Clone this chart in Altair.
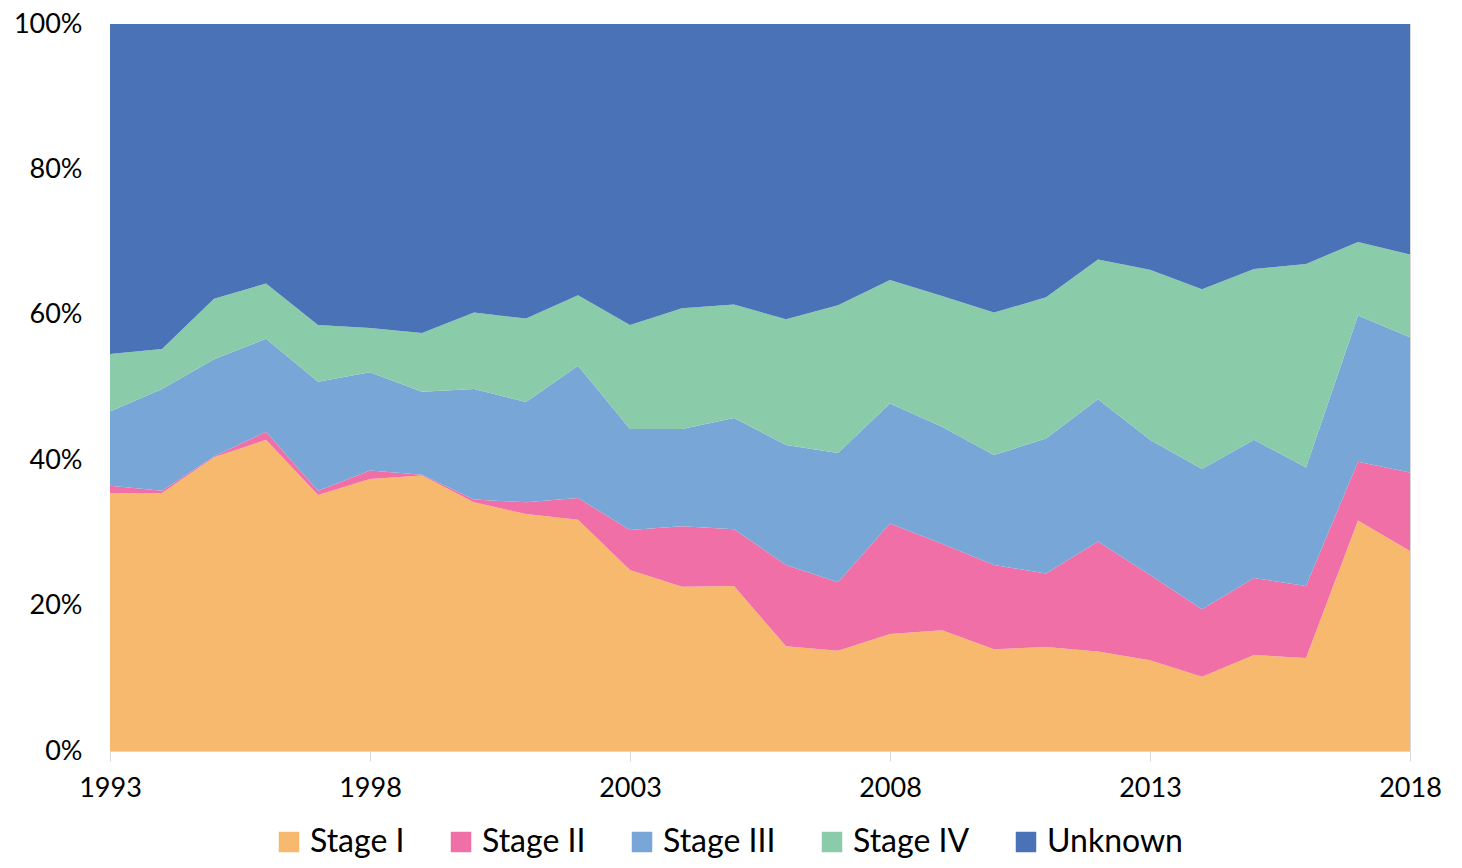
import altair as alt
import pandas as pd

years = list(range(1993, 2019))
stage_names = ["Stage I", "Stage II", "Stage III", "Stage IV", "Unknown"]
colors = ["#F6B96E", "#EF6FA6", "#78A7D7", "#8ACBAA", "#4A72B7"]

stage1 = [35.5, 35.5, 40.4, 42.8, 35.2, 37.4, 37.9, 34.2, 32.6, 31.8, 24.9, 22.6, 22.7,
          14.4, 13.8, 16.1, 16.6, 14.0, 14.3, 13.7, 12.5, 10.2, 13.2, 12.8, 31.7, 27.5]
stage2 = [1.0, 0.3, 0.1, 1.1, 0.6, 1.2, 0.1, 0.4, 1.6, 3.0, 5.5, 8.3, 7.8,
          11.2, 9.4, 15.2, 11.9, 11.6, 10.1, 15.1, 11.7, 9.3, 10.6, 9.9, 8.1, 10.8]
stage3 = [10.2, 14.0, 13.4, 12.8, 15.0, 13.5, 11.4, 15.2, 13.8, 18.2, 13.9, 13.4, 15.3,
          16.5, 17.8, 16.5, 16.1, 15.1, 18.6, 19.6, 18.6, 19.3, 19.0, 16.3, 20.1, 18.6]
stage4 = [7.9, 5.5, 8.3, 7.6, 7.8, 6.1, 8.1, 10.5, 11.5, 9.7, 14.3, 16.6, 15.6,
          17.3, 20.3, 17.0, 18.0, 19.6, 19.4, 19.2, 23.4, 24.7, 23.5, 28.0, 10.1, 11.4]
unknown = [45.4, 44.7, 37.8, 35.7, 41.4, 41.8, 42.5, 39.7, 40.5, 37.3, 41.4, 39.1, 38.6,
           40.6, 38.7, 35.2, 37.4, 39.7, 37.6, 32.4, 33.8, 36.5, 33.7, 33.0, 30.0, 31.7]
x_ticks = [1993, 1998, 2003, 2008, 2013, 2018]
y_ticks = [0, 20, 40, 60, 80, 100]

series = [stage1, stage2, stage3, stage4, unknown]
rows = []
for name, order, vals in zip(stage_names, range(5), series):
    for yr, v in zip(years, vals):
        rows.append({"Year": yr, "Stage": name, "order": order, "Value": v})
df = pd.DataFrame(rows)

FONT = "Lato"

chart = alt.Chart(df).mark_area(opacity=1, clip=True).encode(
    x=alt.X("Year:Q",
            scale=alt.Scale(domain=[1993, 2018], nice=False, zero=False),
            axis=alt.Axis(values=x_ticks, format="d", title=None, grid=False,
                          labelFontSize=27, labelFont=FONT, labelColor="#000000",
                          labelPadding=14, tickSize=10, tickColor="#D9D9D9",
                          domainColor="#D9D9D9", labelFlush=False)),
    y=alt.Y("Value:Q", stack="zero",
            scale=alt.Scale(domain=[0, 100], nice=False),
            axis=alt.Axis(values=y_ticks, title=None, labelExpr="datum.value + '%'",
                          labelFontSize=27, labelFont=FONT, labelColor="#000000",
                          labelPadding=28, ticks=False, domain=False,
                          grid=True, gridColor="#D9D9D9")),
    color=alt.Color("Stage:N",
                    scale=alt.Scale(domain=stage_names, range=colors),
                    sort=stage_names,
                    legend=alt.Legend(orient="none", legendX=163, legendY=802,
                                      direction="horizontal", title=None,
                                      symbolType="square", symbolSize=420,
                                      symbolStrokeWidth=0,
                                      labelFontSize=32, labelFont=FONT, labelColor="#000000",
                                      labelOffset=5, columnPadding=40,
                                      labelLimit=300)),
    order=alt.Order("order:Q", sort="ascending"),
).properties(
    width=1300, height=727,
    padding={"left": 102, "top": 16, "right": 44, "bottom": 109},
    autosize=alt.AutoSizeParams(type="none"),
).configure_view(stroke="#D9D9D9", strokeWidth=1)

chart.save("out.html", embed_options={"renderer": "svg", "actions": False})
